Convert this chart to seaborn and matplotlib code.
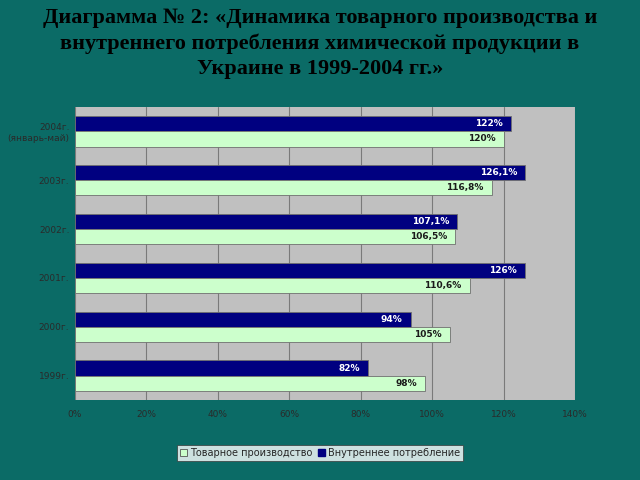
import matplotlib
matplotlib.use("Agg")
import matplotlib.pyplot as plt
import seaborn as sns
import pandas as pd
from matplotlib.patches import Patch

categories = ["2004г.\n(январь-май)", "2003г.", "2002г.", "2001г.", "2000г.", "1999г."]
production = [120, 116.8, 106.5, 110.6, 105, 98]
consumption = [122, 126.1, 107.1, 126, 94, 82]
production_labels = ["120%", "116,8%", "106,5%", "110,6%", "105%", "98%"]
consumption_labels = ["122%", "126,1%", "107,1%", "126%", "94%", "82%"]
series_names = ["Товарное производство", "Внутреннее потребление"]
x_ticks = [0, 20, 40, 60, 80, 100, 120, 140]

BG = "#0b6b66"
GREEN = "#ccffcc"
NAVY = "#000080"

df = pd.DataFrame({
    "year": categories * 2,
    "value": consumption + production,
    "series": [series_names[1]] * 6 + [series_names[0]] * 6,
})

sns.set_theme(style="white")
fig = plt.figure(figsize=(6.4, 4.8), dpi=100, facecolor=BG)
ax = fig.add_axes([75/640, 1-400/480, 500/640, 293/480])
ax.set_facecolor("#c0c0c0")

sns.barplot(data=df, y="year", x="value", hue="series", orient="h",
            hue_order=[series_names[1], series_names[0]],
            palette={series_names[1]: NAVY, series_names[0]: GREEN},
            saturation=1, width=0.62, gap=0.0, edgecolor="#6f6f6f", linewidth=0.6,
            order=categories, legend=False, ax=ax)

ax.set_xlim(0, 140)
ax.set_xticks(x_ticks)
ax.set_xticklabels([f"{t}%" for t in x_ticks], fontsize=6.5, color="#2a2a2a")
ax.tick_params(axis="y", labelsize=6.5, labelcolor="#2a2a2a", length=0, pad=4)
ax.tick_params(axis="x", length=3, color="#555555", pad=4)
ax.set_xlabel("")
ax.set_ylabel("")
ax.xaxis.grid(True, color="#7a7a7a", linewidth=0.8)
ax.set_axisbelow(True)
for s in ax.spines.values():
    s.set_visible(False)

for cont, labs, col in zip(ax.containers, [consumption_labels, production_labels], ["white", "#1a1a1a"]):
    texts = ax.bar_label(cont, labels=labs, padding=-6, fontsize=6.5, fontweight="bold", color=col)
    for t in texts:
        t.set_ha("right")

fig.text(0.5, 1-8/480, "Диаграмма № 2: «Динамика товарного производства и\nвнутреннего потребления химической продукции в\nУкраине в 1999-2004 гг.»",
         ha="center", va="top", fontsize=16, fontweight="bold", family="Liberation Serif",
         color="black", linespacing=1.36)

handles = [Patch(facecolor=GREEN, edgecolor="#555555", linewidth=0.6),
           Patch(facecolor=NAVY, edgecolor=NAVY)]
leg = fig.legend(handles, series_names, loc="center", bbox_to_anchor=(0.5, 1-453/480), ncol=2,
                 fontsize=7, frameon=True, fancybox=False, handlelength=0.8, handleheight=0.8,
                 handletextpad=0.3, columnspacing=0.5, borderpad=0.3)
leg.get_frame().set_facecolor("white")
leg.get_frame().set_edgecolor("#333333")
leg.get_frame().set_linewidth(0.6)

fig.savefig("out.png", dpi=100, facecolor=BG)
